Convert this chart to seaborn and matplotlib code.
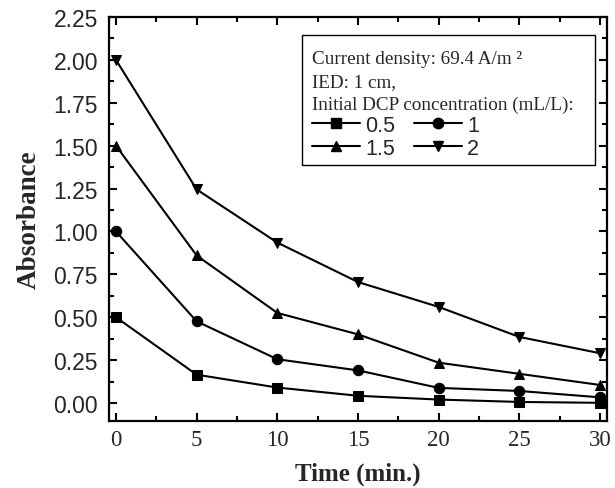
import numpy as np
import pandas as pd
import seaborn as sns
import matplotlib
matplotlib.use("Agg")
import matplotlib.pyplot as plt
from matplotlib.lines import Line2D
from matplotlib.patches import Rectangle
from matplotlib.ticker import MultipleLocator, FormatStrFormatter

time = [0, 5, 10, 15, 20, 25, 30]
conc_labels = ["0.5", "1", "1.5", "2"]
abs_05 = [0.50, 0.165, 0.09, 0.042, 0.02, 0.006, 0.001]
abs_1 = [1.00, 0.476, 0.255, 0.19, 0.088, 0.07, 0.033]
abs_15 = [1.50, 0.86, 0.525, 0.40, 0.235, 0.17, 0.105]
abs_2 = [2.00, 1.245, 0.935, 0.705, 0.56, 0.385, 0.29]

title_lines = ["Current density: 69.4 A/m \u00b2", "IED: 1 cm,",
               "Initial DCP concentration (mL/L):"]

sns.set_style("white")
plt.rcParams["font.family"] = ["Liberation Serif", "DejaVu Serif"]

rows = []
for lab, vals in zip(conc_labels, [abs_05, abs_1, abs_15, abs_2]):
    for t, v in zip(time, vals):
        rows.append({"Time": t, "Absorbance": v, "conc": lab})
df = pd.DataFrame(rows)

markers = ["s", "o", "^", "v"]
fig = plt.figure(figsize=(6.15, 4.89), dpi=100)
ax = fig.add_axes([109/615, 1-422/489, (607-109)/615, (422-18)/489])
sns.lineplot(data=df, x="Time", y="Absorbance", hue="conc", style="conc",
             markers=markers, dashes=False, palette=["black"]*4,
             linewidth=1.5, markersize=7.5, markeredgecolor="black",
             ax=ax, legend=False)

ax.set_xlim(-0.43, 30.43)
ax.set_ylim(-0.105, 2.25)
ax.xaxis.set_major_locator(MultipleLocator(5))
ax.xaxis.set_minor_locator(MultipleLocator(2.5))
ax.yaxis.set_major_locator(MultipleLocator(0.25))
ax.yaxis.set_minor_locator(MultipleLocator(0.125))
ax.yaxis.set_major_formatter(FormatStrFormatter("%.2f"))
ax.tick_params(which="both", direction="in", top=True, right=True,
               bottom=True, left=True, width=1.5, color="black")
ax.tick_params(which="major", length=6)
ax.tick_params(which="minor", length=3.5)
ax.tick_params(axis="y", which="major", pad=8)
ax.tick_params(axis="x", which="major", pad=6)
for lab in ax.get_yticklabels():
    lab.set_fontfamily(["Liberation Sans", "DejaVu Sans"])
    lab.set_fontsize(16.5)
for lab in ax.get_xticklabels():
    lab.set_fontfamily(["Liberation Serif", "DejaVu Serif"])
    lab.set_fontsize(16.5)
for s in ax.spines.values():
    s.set_linewidth(1.6)
    s.set_color("black")

ax.set_xlabel("Time (min.)", fontsize=18, fontweight="bold", labelpad=8)
ax.set_ylabel("Absorbance", fontsize=19.5, fontweight="bold", labelpad=8)

# legend frame
ax.add_patch(Rectangle((302/615, 1-166/489), (595-302)/615, (166-36)/489,
                       transform=fig.transFigure, fill=True, clip_on=False,
                       facecolor="white", edgecolor="black", linewidth=1.0,
                       zorder=5))

order = [0, 2, 1, 3]
handles = [Line2D([], [], color="black", marker=markers[i], markersize=7.5,
                  linewidth=1.5) for i in order]
labels = [conc_labels[i] for i in order]
leg = ax.legend(handles, labels, ncol=2, loc="upper left",
                bbox_to_anchor=(308/615, 1-47/489), bbox_transform=fig.transFigure,
                title="\n".join(title_lines), alignment="left",
                prop={"family": ["Liberation Sans"], "size": 15.5},
                title_fontproperties={"family": ["Liberation Serif"], "size": 13.8},
                frameon=False, handlelength=2.2, handletextpad=0.25,
                columnspacing=0.9, labelspacing=0.1, borderpad=0.2,
                borderaxespad=0)
leg.get_title().set_linespacing(1.42)
leg.set_zorder(6)

fig.savefig("out.png", dpi=100)
